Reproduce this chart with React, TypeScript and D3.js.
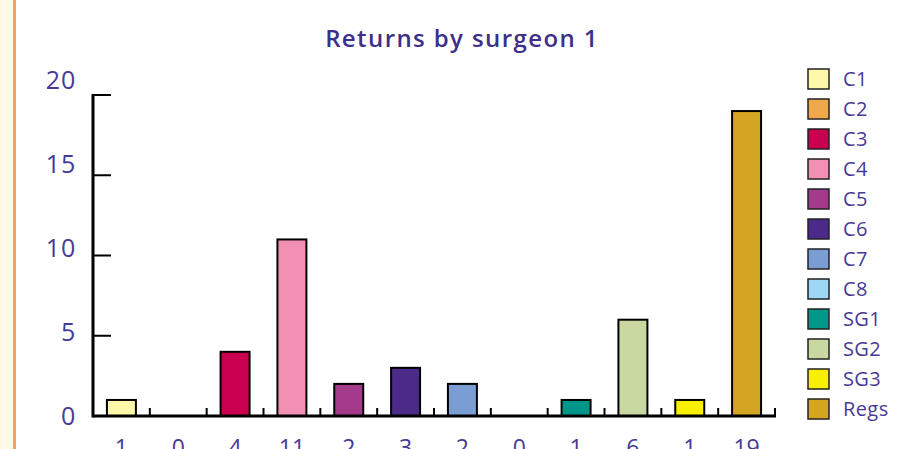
import { useEffect, useRef } from "react";
import * as d3 from "d3";

const categories = ["C1", "C2", "C3", "C4", "C5", "C6", "C7", "C8", "SG1", "SG2", "SG3", "Regs"];
const values = [1, 0, 4, 11, 2, 3, 2, 0, 1, 6, 1, 19];
const colors = ["#fff8a8", "#f0a84a", "#c8004f", "#f290b4", "#a33b8a", "#4b2a8a", "#7a9ed4", "#9ed6f5", "#00968a", "#c8d8a0", "#f8f000", "#d4a520"];
const yTicks = [0, 5, 10, 15, 20];

const W = 897;
const H = 449;
const textColor = "#473a94";
const font = "'Open Sans', sans-serif";

export default function App() {
  const ref = useRef<SVGSVGElement>(null);

  useEffect(() => {
    document.body.style.margin = "0";
    const svg = d3.select(ref.current);
    svg.selectAll("*").remove();

    const left = 93, right = 775, top = 95, bottom = 416;

    const x = d3.scaleBand().domain(categories).range([left, right]).paddingInner(0).paddingOuter(0);
    const y = d3.scaleLinear().domain([0, 20]).range([bottom, top]);
    // tick labels in the original sit a little higher than their ticks toward the top
    const yLabel = d3.scaleLinear().domain([0, 20]).range([bottom, 80]);

    // page background + left strip
    svg.append("rect").attr("width", W).attr("height", H).attr("fill", "#fff");
    svg.append("rect").attr("width", 13).attr("height", H).attr("fill", "#fff9e6");
    svg.append("rect").attr("x", 13).attr("width", 3).attr("height", H).attr("fill", "#f5a84a");

    svg.append("text")
      .attr("x", 462).attr("y", 47)
      .attr("text-anchor", "middle")
      .attr("font-family", font).attr("font-size", 24).attr("font-weight", 600)
      .attr("letter-spacing", 1.4)
      .attr("fill", "#3d2f8a")
      .text("Returns by surgeon 1");

    // bars
    const bw = x.bandwidth() * 0.51;
    svg.append("g").selectAll("rect")
      .data(values.map((v, i) => ({ v, c: categories[i], col: colors[i] })).filter(d => d.v > 0))
      .join("rect")
      .attr("x", d => x(d.c)! + x.bandwidth() / 2 - bw / 2)
      .attr("y", d => y(d.v))
      .attr("width", bw)
      .attr("height", d => y(0) - y(d.v))
      .attr("fill", d => d.col)
      .attr("stroke", "#000")
      .attr("stroke-width", 2);

    // axes
    const ax = svg.append("g").attr("stroke", "#000");
    ax.append("line").attr("x1", left).attr("x2", left).attr("y1", top - 1).attr("y2", bottom + 1.5).attr("stroke-width", 3);
    yTicks.filter(t => t > 0).forEach(t => {
      ax.append("line").attr("x1", left).attr("x2", left + 18).attr("y1", y(t)).attr("y2", y(t)).attr("stroke-width", 2);
    });
    ax.append("line").attr("x1", left).attr("x2", right + 1).attr("y1", bottom).attr("y2", bottom).attr("stroke-width", 3);
    categories.forEach(c => {
      const bx = x(c)! + x.bandwidth();
      ax.append("line").attr("x1", bx).attr("x2", bx).attr("y1", bottom).attr("y2", bottom - 8).attr("stroke-width", 2);
    });

    svg.append("g").selectAll("text")
      .data(yTicks)
      .join("text")
      .attr("x", 76).attr("y", d => yLabel(d) + 9)
      .attr("text-anchor", "end")
      .attr("font-family", font).attr("font-size", 25)
      .attr("letter-spacing", 0.8)
      .attr("fill", textColor)
      .text(d => d);

    // value labels under axis
    svg.append("g").selectAll("text")
      .data(values)
      .join("text")
      .attr("x", (d, i) => x(categories[i])! + x.bandwidth() / 2)
      .attr("y", 456)
      .attr("text-anchor", "middle")
      .attr("font-family", font).attr("font-size", 23)
      .attr("fill", textColor)
      .text(d => d);

    // legend
    const lg = svg.append("g").attr("transform", "translate(808,69)");
    categories.forEach((c, i) => {
      const row = lg.append("g").attr("transform", `translate(0,${i * 30})`);
      row.append("rect").attr("width", 21).attr("height", 20)
        .attr("fill", colors[i]).attr("stroke", "#222").attr("stroke-width", 1.5);
      row.append("text").attr("x", 35).attr("y", 17)
        .attr("font-family", font).attr("font-size", 20)
        .attr("letter-spacing", 0.4)
        .attr("fill", textColor)
        .text(c);
    });
  }, []);

  return <svg ref={ref} width={W} height={H} style={{ display: "block" }} />;
}
